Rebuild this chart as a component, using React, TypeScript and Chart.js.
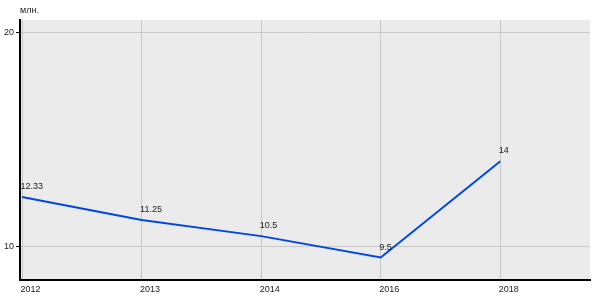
import React, { useEffect, useRef } from "react";
import { Chart, registerables } from "chart.js";

Chart.register(...registerables);

const categories = ["2012", "2013", "2014", "2016", "2018"];
const values = [12.33, 11.25, 10.5, 9.5, 14];
const yTicks = [10, 20];
const unitLabel = "млн.";

const FONT = "'Liberation Sans', Arial, sans-serif";

export default function App() {
  const ref = useRef<HTMLCanvasElement | null>(null);

  useEffect(() => {
    document.body.style.margin = "0";
    const canvas = ref.current;
    if (!canvas) return;

    const bgPlugin = {
      id: "bg",
      beforeDraw(chart: any) {
        const { ctx, chartArea } = chart;
        ctx.save();
        ctx.fillStyle = "#ebebeb";
        ctx.fillRect(chartArea.left, chartArea.top, chartArea.right - chartArea.left, chartArea.bottom - chartArea.top);
        ctx.restore();
      },
    };

    const labelPlugin = {
      id: "labels",
      afterDatasetsDraw(chart: any) {
        const { ctx, chartArea } = chart;
        const meta = chart.getDatasetMeta(0);
        ctx.save();
        ctx.font = `9px ${FONT}`;
        ctx.fillStyle = "#222";
        ctx.textAlign = "left";
        ctx.textBaseline = "middle";
        meta.data.forEach((el: any, i: number) => {
          ctx.fillText(String(values[i]), el.x - 1.5, el.y - 10.5);
        });
        ctx.fillText(unitLabel, chartArea.left, 11);
        ctx.restore();
      },
    };

    const chart = new Chart(canvas, {
      type: "line",
      data: {
        datasets: [
          {
            data: values.map((v, i) => ({ x: i, y: v })),
            borderColor: "#0047e0",
            borderWidth: 2,
            pointRadius: 0,
            tension: 0,
            fill: false,
          },
        ],
      },
      options: {
        animation: false,
        responsive: false,
        maintainAspectRatio: false,
        layout: { padding: { top: 20, right: 10, left: 0, bottom: 0 } },
        plugins: {
          legend: { display: false },
          tooltip: { enabled: false },
          title: { display: false },
        },
        scales: {
          x: {
            type: "linear",
            min: -0.017,
            max: 4.75,
            afterBuildTicks(axis: any) {
              axis.ticks = categories.map((_, i) => ({ value: i }));
            },
            afterFit(axis: any) {
              axis.height = 20;
            },
            ticks: {
              align: "start",
              padding: 4,
              labelOffset: -1.5,
              maxRotation: 0,
              autoSkip: false,
              color: "#222",
              font: { family: FONT, size: 9 },
              callback: (v: any) => categories[v as number] ?? "",
            },
            grid: { color: "#c8c8c8", drawTicks: false, lineWidth: 1 },
            border: { color: "#000", width: 2 },
          },
          y: {
            type: "linear",
            min: 8.45,
            max: 20.6,
            afterBuildTicks(axis: any) {
              axis.ticks = yTicks.map((v) => ({ value: v }));
            },
            afterFit(axis: any) {
              axis.width = 20;
            },
            ticks: {
              padding: 2,
              color: "#222",
              font: { family: FONT, size: 9 },
            },
            grid: { color: "#c8c8c8", tickColor: "#000", tickLength: 4, lineWidth: 1 },
            border: { color: "#000", width: 2 },
          },
        },
      },
      plugins: [bgPlugin, labelPlugin],
    });

    return () => chart.destroy();
  }, []);

  return (
    <div style={{ width: 600, height: 300 }}>
      <canvas ref={ref} width={600} height={300} style={{ display: "block" }} />
    </div>
  );
}
